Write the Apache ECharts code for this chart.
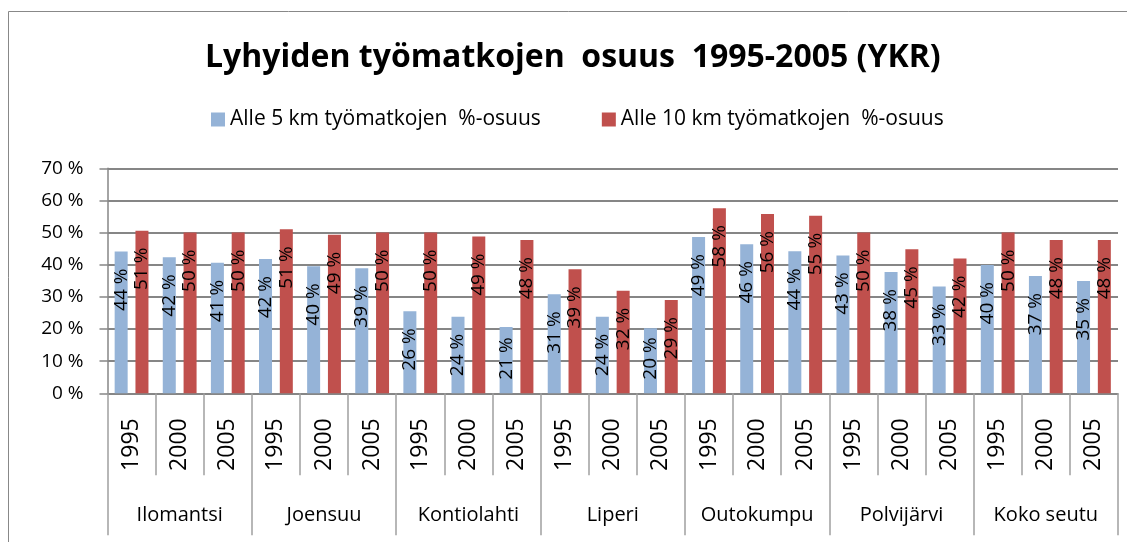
<!DOCTYPE html>
<html>
<head>
<meta charset="utf-8">
<script src="https://cdn.jsdelivr.net/npm/echarts@6/dist/echarts.min.js"></script>
<style>
  html, body { margin: 0; padding: 0; background: #fff; }
  #myChart { width: 1127px; height: 542px; }
</style>
</head>
<body>
<div id="myChart"></div>
<script>
var regions = ["Ilomantsi", "Joensuu", "Kontiolahti", "Liperi", "Outokumpu", "Polvijärvi", "Koko seutu"];
var years = ["1995", "2000", "2005"];
// Alle 5 km työmatkojen %-osuus, järjestys: alue x vuosi
var alle5 = [44.1, 42.3, 40.6, 41.8, 39.5, 38.9, 25.5, 23.8, 20.6, 30.8, 23.8, 20.2, 48.6, 46.4, 44.2, 42.9, 37.7, 33.2, 39.9, 36.5, 34.9];
// Alle 10 km työmatkojen %-osuus
var alle10 = [50.6, 50.0, 50.0, 51.0, 49.3, 50.0, 50.0, 48.8, 47.7, 38.6, 31.9, 29.0, 57.6, 55.8, 55.2, 50.0, 44.8, 41.9, 50.0, 47.7, 47.7];
var yTicks = [0, 10, 20, 30, 40, 50, 60, 70];

var font = "'Open Sans', 'Noto Sans', sans-serif";
var gray = "#868686";
var plotH = 225; // piirtoalueen korkeus px

var myChart = echarts.init(document.getElementById("myChart"));

var yearCats = [];
regions.forEach(function () {
  years.forEach(function (y) { yearCats.push(y); });
});

// label 17px palkin yläpäästä, mutta lyhyissä palkeissa nostetaan ettei mene pohjaan
function withLabelPos(values) {
  return values.map(function (v) {
    var h = v / yTicks[yTicks.length - 1] * plotH;
    var d = Math.min(17, h - 13 - 43);
    return { value: v, label: { distance: d } };
  });
}

function barLabel() {
  return {
    show: true,
    position: "insideTop",
    distance: 17,
    rotate: 90,
    align: "right",
    verticalAlign: "middle",
    fontSize: 19,
    fontFamily: font,
    color: "#000",
    formatter: function (p) { return Math.round(p.value) + " %"; }
  };
}

myChart.setOption({
  animation: false,
  textStyle: { fontFamily: font },
  graphic: [{
    type: "rect",
    shape: { x: 8.5, y: 11.5, width: 1300, height: 700 },
    style: { fill: "none", stroke: "#888", lineWidth: 1 },
    silent: true
  }],
  title: {
    text: "Lyhyiden työmatkojen  osuus  1995-2005 (YKR)",
    left: 200,
    top: 37,
    textStyle: { fontSize: 32, fontWeight: "bold", color: "#000", fontFamily: font }
  },
  legend: {
    data: ["Alle 5 km työmatkojen  %-osuus", "Alle 10 km työmatkojen  %-osuus"],
    left: 211,
    top: 109,
    padding: 0,
    icon: "rect",
    itemWidth: 14,
    itemHeight: 14,
    itemGap: 61,
    textStyle: { fontSize: 21, color: "#000", fontFamily: font }
  },
  grid: { left: 107.5, right: 9, top: 168.3, bottom: 148.7 },
  xAxis: [
    {
      type: "category",
      data: yearCats,
      position: "bottom",
      axisLine: { show: true, lineStyle: { color: gray, width: 1.5 } },
      axisTick: { show: true, interval: 0, length: 82, lineStyle: { color: "#a0a0a0", width: 1.5 } },
      axisLabel: { interval: 0, rotate: 90, margin: 25, fontSize: 23, color: "#000", fontFamily: font },
      splitLine: { show: false }
    },
    {
      type: "category",
      data: regions,
      position: "bottom",
      offset: 82,
      axisLine: { show: false },
      axisTick: { show: true, interval: 0, length: 60, lineStyle: { color: "#a0a0a0", width: 1.5 } },
      axisLabel: { interval: 0, margin: 30, fontSize: 20, color: "#000", fontFamily: font },
      splitLine: { show: false }
    }
  ],
  yAxis: {
    type: "value",
    min: yTicks[0],
    max: yTicks[yTicks.length - 1],
    interval: 10,
    axisLine: { show: true, lineStyle: { color: gray, width: 1.5 } },
    axisTick: { show: true, length: 8, lineStyle: { color: gray, width: 1.5 } },
    axisLabel: { margin: 24, fontSize: 19, color: "#000", fontFamily: font, formatter: "{value} %" },
    splitLine: { show: true, lineStyle: { color: gray, width: 2 } }
  },
  series: [
    {
      name: "Alle 5 km työmatkojen  %-osuus",
      type: "bar",
      data: withLabelPos(alle5),
      barWidth: 13,
      barGap: "60%",
      itemStyle: { color: "#95B3D7" },
      label: barLabel()
    },
    {
      name: "Alle 10 km työmatkojen  %-osuus",
      type: "bar",
      data: withLabelPos(alle10),
      barWidth: 13,
      barGap: "60%",
      itemStyle: { color: "#C0504D" },
      label: barLabel()
    }
  ]
});

window.addEventListener("resize", function () {
  myChart.resize();
});
</script>
</body>
</html>
